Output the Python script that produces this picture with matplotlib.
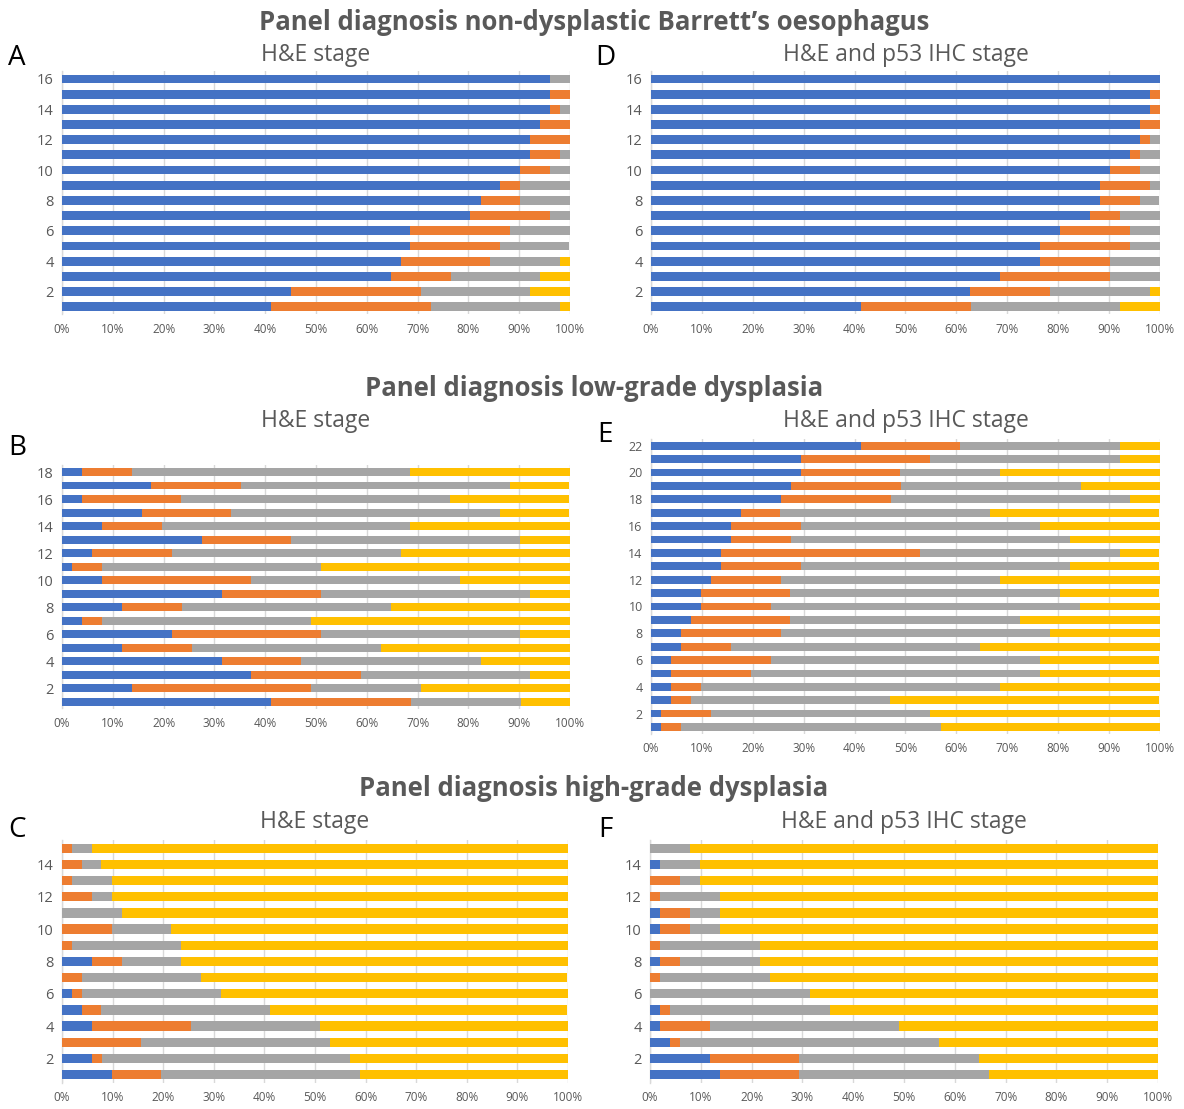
import matplotlib
matplotlib.use("Agg")
import matplotlib.pyplot as plt
import numpy as np

plt.rcParams['font.family'] = ['Open Sans', 'DejaVu Sans']

# ---------------- data (percent of raters, bars 1..n bottom to top) ----------------
a_blue   = [41.2, 45.1, 64.7, 66.7, 68.6, 68.6, 80.4, 82.4, 86.3, 90.2, 92.2, 92.2, 94.1, 96.1, 96.1, 96.1]
a_orange = [31.4, 25.5, 11.8, 17.6, 17.6, 19.6, 15.7, 7.8, 3.9, 5.9, 5.9, 7.8, 5.9, 2.0, 3.9, 0]
a_gray   = [25.5, 21.6, 17.6, 13.7, 13.7, 11.8, 3.9, 9.8, 9.8, 3.9, 2.0, 0, 0, 2.0, 0, 3.9]
a_yellow = [2.0, 7.8, 5.9, 2.0, 0, 0, 0, 0, 0, 0, 0, 0, 0, 0, 0, 0]

d_blue   = [41.2, 62.7, 68.6, 76.5, 76.5, 80.4, 86.3, 88.2, 88.2, 90.2, 94.1, 96.1, 96.1, 98.0, 98.0, 100]
d_orange = [21.6, 15.7, 21.6, 13.7, 17.6, 13.7, 5.9, 7.8, 9.8, 5.9, 2.0, 2.0, 3.9, 2.0, 2.0, 0]
d_gray   = [29.4, 19.6, 9.8, 9.8, 5.9, 5.9, 7.8, 3.9, 2.0, 3.9, 3.9, 2.0, 0, 0, 0, 0]
d_yellow = [7.8, 2.0, 0, 0, 0, 0, 0, 0, 0, 0, 0, 0, 0, 0, 0, 0]

b_blue   = [41.2, 13.7, 37.3, 31.4, 11.8, 21.6, 3.9, 11.8, 31.4, 7.8, 2.0, 5.9, 27.5, 7.8, 15.7, 3.9, 17.6, 3.9]
b_orange = [27.5, 35.3, 21.6, 15.7, 13.7, 29.4, 3.9, 11.8, 19.6, 29.4, 5.9, 15.7, 17.6, 11.8, 17.6, 19.6, 17.6, 9.8]
b_gray   = [21.6, 21.6, 33.3, 35.3, 37.3, 39.2, 41.2, 41.2, 41.2, 41.2, 43.1, 45.1, 45.1, 49.0, 52.9, 52.9, 52.9, 54.9]
b_yellow = [9.8, 29.4, 7.8, 17.6, 37.3, 9.8, 51.0, 35.3, 7.8, 21.6, 49.0, 33.3, 9.8, 31.4, 13.7, 23.5, 11.8, 31.4]

e_blue   = [2.0, 2.0, 3.9, 3.9, 3.9, 3.9, 5.9, 5.9, 7.8, 9.8, 9.8, 11.8, 13.7, 13.7, 15.7, 15.7, 17.6, 25.5, 27.5, 29.4, 29.4, 41.2]
e_orange = [3.9, 9.8, 3.9, 5.9, 15.7, 19.6, 9.8, 19.6, 19.6, 13.7, 17.6, 13.7, 15.7, 39.2, 11.8, 13.7, 7.8, 21.6, 21.6, 19.6, 25.5, 19.6]
e_gray   = [51.0, 43.1, 39.2, 58.8, 56.9, 52.9, 49.0, 52.9, 45.1, 60.8, 52.9, 43.1, 52.9, 39.2, 54.9, 47.1, 41.2, 47.1, 35.3, 19.6, 37.3, 31.4]
e_yellow = [43.1, 45.1, 52.9, 31.4, 23.5, 23.5, 35.3, 21.6, 27.5, 15.7, 19.6, 31.4, 17.6, 7.8, 17.6, 23.5, 33.3, 5.9, 15.7, 31.4, 7.8, 7.8]

c_blue   = [9.8, 5.9, 0, 5.9, 3.9, 2.0, 0, 5.9, 0, 0, 0, 0, 0, 0, 0]
c_orange = [9.8, 2.0, 15.7, 19.6, 3.9, 2.0, 3.9, 5.9, 2.0, 9.8, 0, 5.9, 2.0, 3.9, 2.0]
c_gray   = [39.2, 49.0, 37.3, 25.5, 33.3, 27.5, 23.5, 11.8, 21.6, 11.8, 11.8, 3.9, 7.8, 3.9, 3.9]
c_yellow = [41.2, 43.1, 47.1, 49.0, 58.8, 68.6, 72.5, 76.5, 76.5, 78.4, 88.2, 90.2, 90.2, 92.2, 94.1]

f_blue   = [13.7, 11.8, 3.9, 2.0, 2.0, 0, 0, 2.0, 0, 2.0, 2.0, 0, 0, 2.0, 0]
f_orange = [15.7, 17.6, 2.0, 9.8, 2.0, 0, 2.0, 3.9, 2.0, 5.9, 5.9, 2.0, 5.9, 0, 0]
f_gray   = [37.3, 35.3, 51.0, 37.3, 31.4, 31.4, 21.6, 15.7, 19.6, 5.9, 5.9, 11.8, 3.9, 7.8, 7.8]
f_yellow = [33.3, 35.3, 43.1, 51.0, 64.7, 68.6, 76.5, 78.4, 78.4, 86.3, 86.3, 86.3, 90.2, 90.2, 92.2]

x_ticks = [0, 10, 20, 30, 40, 50, 60, 70, 80, 90, 100]
x_tick_labels = ['0%', '10%', '20%', '30%', '40%', '50%', '60%', '70%', '80%', '90%', '100%']

main_titles = ['Panel diagnosis non-dysplastic Barrett\u2019s oesophagus',
               'Panel diagnosis low-grade dysplasia',
               'Panel diagnosis high-grade dysplasia']
sub_left = 'H&E stage'
sub_right = 'H&E and p53 IHC stage'

# ---------------- style ----------------
COLORS = ['#4472C4', '#ED7D31', '#A5A5A5', '#FFC000']
TXT = '#595959'
GRID = '#D9D9D9'
W, H = 1184, 1109

fig = plt.figure(figsize=(W / 100, H / 100), dpi=100)


def px_axes(x0, x1, ytop, ybot):
    return fig.add_axes([x0 / W, 1 - ybot / H, (x1 - x0) / W, (ybot - ytop) / H])


def panel(ax, series, ytick_size):
    n = len(series[0])
    y = np.arange(1, n + 1)
    left = np.zeros(n)
    for vals, col in zip(series, COLORS):
        v = np.array(vals, dtype=float)
        ax.barh(y, v, left=left, height=0.58, color=col, edgecolor='none', zorder=3)
        left = left + v
    ax.set_xlim(0, 100)
    ax.set_ylim(0.5, n + 0.5)
    ax.set_xticks(x_ticks)
    ax.set_xticklabels(x_tick_labels)
    yt = list(range(2, n + 1, 2))
    ax.set_yticks(yt)
    ax.set_yticklabels([str(t) for t in yt])
    for s in ['top', 'right', 'bottom']:
        ax.spines[s].set_visible(False)
    ax.spines['left'].set_color(GRID)
    ax.spines['left'].set_linewidth(1.0)
    ax.spines['left'].set_zorder(1)
    ax.xaxis.grid(True, color=GRID, linewidth=1.0, zorder=0)
    ax.set_axisbelow(True)
    ax.tick_params(axis='both', length=0, colors=TXT)
    ax.tick_params(axis='x', labelsize=8.5, pad=6)
    ax.tick_params(axis='y', labelsize=ytick_size, pad=6)


LX0, LX1 = 62, 570
RX0, RX1 = 651, 1160

axA = px_axes(LX0, LX1, 71.4, 314.3)
panel(axA, [a_blue, a_orange, a_gray, a_yellow], 10.5)
axD = px_axes(RX0, RX1, 71.4, 314.3)
panel(axD, [d_blue, d_orange, d_gray, d_yellow], 10.5)

axB = px_axes(LX0, LX1, 465.3, 708.5)
panel(axB, [b_blue, b_orange, b_gray, b_yellow], 10.5)
axE = px_axes(RX0, RX1, 439.0, 733.7)
panel(axE, [e_blue, e_orange, e_gray, e_yellow], 9)

axC = px_axes(LX0, 568, 840.2, 1082.6)
panel(axC, [c_blue, c_orange, c_gray, c_yellow], 10.5)
axF = px_axes(650, 1158, 840.2, 1082.6)
panel(axF, [f_blue, f_orange, f_gray, f_yellow], 10.5)


def ftext(x, y, s, **kw):
    fig.text(x / W, 1 - y / H, s, **kw)


# main titles
for y, t in zip([22, 388, 788], main_titles):
    ftext(594, y, t, ha='center', va='center', fontsize=18.5, fontweight='bold', color=TXT)

# sub titles
for ycen, cx_l, cx_r in [(55, 316, 905.5), (421, 316, 905.5), (822, 315, 904)]:
    ftext(cx_l, ycen, sub_left, ha='center', va='center', fontsize=16.5, color=TXT)
    ftext(cx_r, ycen, sub_right, ha='center', va='center', fontsize=16.5, color=TXT)

# panel letters
for x, y, s in [(17, 58, 'A'), (605, 58, 'D'), (17, 448, 'B'), (605, 435, 'E'),
                (17, 830, 'C'), (605, 830, 'F')]:
    ftext(x, y, s, ha='center', va='center', fontsize=20, color='black')

fig.savefig('out.png', dpi=100)
